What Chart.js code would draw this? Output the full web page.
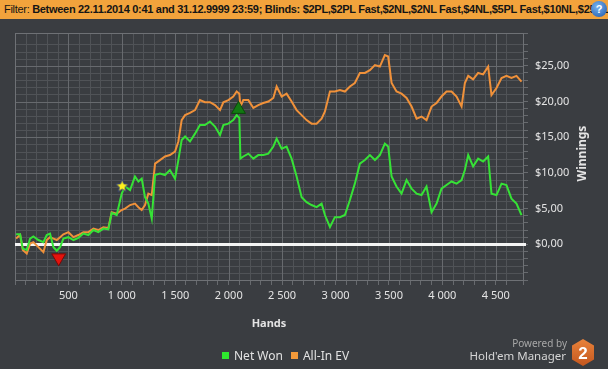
<!DOCTYPE html>
<html>
<head>
<meta charset="utf-8">
<script src="https://cdn.jsdelivr.net/npm/chart.js@4.4.1/dist/chart.umd.min.js"></script>
<style>
  body { margin:0; width:608px; height:369px; background:#3a3d41; overflow:hidden; position:relative; font-family:"Noto Sans", sans-serif; }
  #filterBar { position:absolute; left:0; top:0; width:608px; height:19px; background:#f2a33c; color:#151515; font:bold 11px "Liberation Sans", Arial, sans-serif; letter-spacing:-0.3px; line-height:19px; white-space:nowrap; overflow:hidden; z-index:2; }
  #filterBar .txt { position:absolute; left:4px; top:0; }
  #filterBar .lbl { font-weight:normal; }
  #help { position:absolute; left:591px; top:1px; width:16px; height:16px; border-radius:50%; background:radial-gradient(circle at 40% 35%, #79b3f0, #1c56a8); color:#fff; font:bold 11px "Liberation Sans", Arial, sans-serif; letter-spacing:0; text-align:center; line-height:16px; }
  #wrap { position:absolute; left:0; top:0; width:608px; height:369px; }
  #legend { position:absolute; left:222px; top:348px; font-size:12px; color:#e2e2e2; white-space:nowrap; line-height:16px; }
  #legend .sq { display:inline-block; width:7px; height:7px; margin-right:5px; vertical-align:1px; }
  #legend .item { margin-right:8px; }
  #powered { position:absolute; right:41px; top:336px; font-size:10px; color:#a8a8a8; }
  #hm { position:absolute; right:42px; top:348px; font-size:11.5px; color:#d6d6d6; }
  #logo { position:absolute; left:572px; top:339px; }
</style>
</head>
<body>
<div id="filterBar"><span class="txt"><span class="lbl">Filter:</span> Between 22.11.2014 0:41 and 31.12.9999 23:59; Blinds: $2PL,$2PL Fast,$2NL,$2NL Fast,$4NL,$5PL Fast,$10NL,$25NL,$50NL</span><div id="help">?</div></div>
<div id="wrap"><canvas id="chart" width="608" height="369"></canvas></div>
<div id="legend"><span class="item"><span class="sq" style="background:#2ee82e"></span>Net Won</span><span class="item"><span class="sq" style="background:#f39a3a"></span>All-In EV</span></div>
<div id="powered">Powered by</div>
<div id="hm">Hold'em Manager</div>
<svg id="logo" width="22" height="27" viewBox="0 0 22 27">
  <defs><linearGradient id="hg" x1="0" y1="0" x2="0" y2="1"><stop offset="0" stop-color="#e8823a"/><stop offset="1" stop-color="#c4571f"/></linearGradient></defs>
  <polygon points="11,0 22,6.5 22,20.5 11,27 0,20.5 0,6.5" fill="url(#hg)"/>
  <text x="11" y="20" text-anchor="middle" font-family="Liberation Sans, Arial" font-weight="bold" font-size="17" fill="#fff">2</text>
</svg>
<script>
// hands played (x positions of samples)
const hands = [10,48,73,110,141,172,219,266,297,328,360,391,422,453,500,547,593,640,687,734,780,827,874,905,952,999,1030,1077,1123,1155,1186,1217,1248,1280,1311,1357,1404,1450,1498,1529,1560,1592,1638,1685,1731,1778,1825,1872,1919,1950,1997,2043,2075,2100,2110,2137,2184,2231,2277,2324,2371,2418,2449,2496,2542,2589,2636,2683,2729,2776,2823,2870,2901,2948,2994,3041,3088,3135,3181,3228,3275,3322,3369,3415,3462,3493,3525,3571,3618,3665,3712,3759,3805,3852,3899,3946,3992,4039,4086,4133,4180,4211,4242,4288,4335,4382,4429,4460,4507,4554,4600,4647,4694,4741];

const netWon = [1.4,1.4,-0.6,-0.8,0.8,1.1,0.6,0.3,1.3,1.5,-0.4,-0.9,-0.4,0.8,1.0,0.6,0.9,1.5,1.3,2.0,1.7,2.2,2.1,4.4,4.1,7.1,8.1,7.6,9.5,8.8,9.2,6.6,5.7,3.6,9.7,9.9,9.7,10.4,9.2,11.8,14.6,15.1,14.4,15.5,16.7,16.7,17.2,16.5,15.3,16.7,16.9,17.4,18.1,17.7,12.0,12.3,12.7,12.0,12.5,12.5,12.7,13.7,14.8,13.4,13.7,12.0,9.5,6.6,5.9,5.5,5.2,5.7,4.1,2.4,3.8,3.8,4.1,6.2,8.5,11.3,11.8,12.5,11.8,12.5,14.1,13.7,9.5,8.1,7.1,9.0,7.8,7.1,6.9,8.1,4.5,5.7,7.8,8.3,8.8,8.5,9.0,10.4,12.5,10.9,12.0,11.6,12.3,7.1,6.9,8.5,8.3,6.4,5.7,4.1];

const allInEV = [0.8,1.3,-0.8,-1.3,0.1,0.3,-0.4,-1.1,0.6,1.0,0.8,0.6,1.0,1.4,1.7,1.0,1.3,1.7,1.7,2.2,2.0,2.4,2.3,4.5,4.3,4.8,5.0,5.5,5.7,5.2,4.8,5.5,7.1,6.9,11.3,11.8,12.3,12.5,13.0,14.4,17.4,18.1,18.4,18.8,20.2,19.9,19.9,19.5,18.8,19.9,20.2,20.7,21.4,21.1,19.3,20.2,20.2,19.1,19.5,19.8,20.0,20.5,22.1,20.7,21.1,20.0,18.8,18.1,17.4,16.9,16.9,17.6,18.6,21.4,21.4,21.6,21.4,22.1,22.6,24.0,24.0,24.4,25.1,24.9,26.5,26.3,22.6,21.4,21.1,20.5,19.3,17.6,17.9,17.4,19.3,19.8,20.7,21.4,21.4,20.7,19.3,22.6,23.6,23.1,24.0,23.8,24.9,20.9,21.9,23.3,23.6,23.3,23.6,22.8];

// special hands: biggest loss, star hand, biggest win
const markerHands = [409, 1003, 2092];
const markerValues = [-1.9, 8.2, 18.9];

const xMin = 0, xMax = 4755;
const yMin = -5, yMax = 29.6;

const minorGrid = '#505357';
const majorGrid = '#676a6e';
const frame = '#6e7175';
const textColor = '#e4e4e4';

function makeStar(size) {
  const c = document.createElement('canvas');
  c.width = size; c.height = size;
  const g = c.getContext('2d');
  const cx = size / 2, cy = size / 2 + 0.5, R = size / 2 - 0.8, r = R * 0.45;
  g.beginPath();
  for (let i = 0; i < 10; i++) {
    const a = -Math.PI / 2 + i * Math.PI / 5;
    const rad = i % 2 ? r : R;
    g.lineTo(cx + rad * Math.cos(a), cy + rad * Math.sin(a));
  }
  g.closePath();
  g.fillStyle = '#fff21c';
  g.fill();
  g.strokeStyle = '#2b3a7a';
  g.lineWidth = 1;
  g.stroke();
  return c;
}

function formatHands(v) {
  if (v <= 0 || v % 500 !== 0) return '';
  if (v < 1000) return String(v);
  return Math.floor(v / 1000) + ' ' + String(v % 1000).padStart(3, '0');
}

function formatMoney(v) {
  if (v < 0 || Math.abs(v % 5) > 1e-9) return '';
  return '$' + v.toFixed(2).replace('.', ',');
}

// minor/major grid, frame and zero line as 1px rects, placed from the scales' ticks
const plotGrid = {
  id: 'plotGrid',
  beforeDatasetsDraw(chart) {
    const { ctx, chartArea: a } = chart;
    const xs = chart.scales.x, ys = chart.scales.y;
    const L = Math.round(a.left), R = Math.round(a.right);
    const T = Math.round(a.top), B = Math.round(a.bottom);
    ctx.save();
    const pass = (isMajor) => {
      ctx.fillStyle = isMajor ? majorGrid : minorGrid;
      xs.ticks.forEach(t => {
        if (t.value <= xMin || t.value >= xMax) return;
        if ((t.value % 500 === 0) !== isMajor) return;
        ctx.fillRect(Math.round(xs.getPixelForValue(t.value)), T, 1, B - T);
      });
      ys.ticks.forEach(t => {
        if (t.value <= yMin || t.value >= yMax || t.value === 0) return;
        if ((Math.abs(t.value % 5) < 1e-9) !== isMajor) return;
        ctx.fillRect(L, Math.round(ys.getPixelForValue(t.value)), R - L, 1);
      });
    };
    pass(false);
    pass(true);
    ctx.fillStyle = frame;
    ctx.fillRect(L, T, R - L + 1, 1);
    ctx.fillRect(L, B, R - L + 1, 1);
    ctx.fillRect(L, T, 1, B - T);
    ctx.fillRect(R, T, 1, B - T);
    const z = Math.round(ys.getPixelForValue(0));
    ctx.fillStyle = '#f4f4f4';
    ctx.fillRect(L, z - 1, R - L + 3, 3);
    ctx.restore();
  }
};

// rotated axis title on the right, reading bottom to top
const winningsTitle = {
  id: 'winningsTitle',
  afterDraw(chart) {
    const { ctx, chartArea } = chart;
    const ys = chart.scales.y;
    ctx.save();
    ctx.translate(ys.right - 25, (chartArea.top + chartArea.bottom) / 2 - 3);
    ctx.rotate(-Math.PI / 2);
    ctx.font = 'bold 12px "Noto Sans"';
    ctx.fillStyle = textColor;
    ctx.textAlign = 'center';
    ctx.textBaseline = 'middle';
    ctx.fillText('Winnings', 0, 0);
    ctx.restore();
  }
};

const toPoints = (xs, ys) => xs.map((x, i) => ({ x: x, y: ys[i] }));

new Chart(document.getElementById('chart'), {
  type: 'line',
  data: {
    datasets: [
      {
        label: 'Markers',
        data: toPoints(markerHands, markerValues),
        showLine: false,
        pointStyle: ['triangle', makeStar(15), 'triangle'],
        rotation: [180, 0, 0],
        pointRadius: [8, 7, 8],
        pointBackgroundColor: ['#e4130d', '#fff21c', '#127a12'],
        pointBorderColor: ['#7a0808', '#2b3a7a', '#0a4a0a'],
        pointBorderWidth: 1,
        order: 0
      },
      {
        label: 'Net Won',
        data: toPoints(hands, netWon),
        borderColor: '#36e236',
        borderWidth: 2,
        pointRadius: 0,
        tension: 0,
        order: 1
      },
      {
        label: 'All-In EV',
        data: toPoints(hands, allInEV),
        borderColor: '#f0913a',
        borderWidth: 2,
        pointRadius: 0,
        tension: 0,
        order: 2
      }
    ]
  },
  options: {
    responsive: false,
    animation: false,
    events: [],
    layout: { padding: { left: 15, top: 33, right: 0, bottom: 0 } },
    plugins: {
      legend: { display: false },
      tooltip: { enabled: false }
    },
    scales: {
      x: {
        type: 'linear',
        min: xMin,
        max: xMax,
        afterFit: (scale) => { scale.height = 89; },
        border: { display: false },
        grid: {
          drawOnChartArea: false,
          color: majorGrid,
          tickColor: majorGrid,
          tickLength: 5
        },
        ticks: {
          stepSize: 100,
          autoSkip: false,
          maxRotation: 0,
          padding: 4,
          color: textColor,
          font: { family: '"Noto Sans"', size: 11 },
          callback: formatHands
        },
        title: {
          display: true,
          text: 'Hands',
          color: textColor,
          font: { family: '"Noto Sans"', size: 11, weight: 'bold' },
          padding: { top: 0, bottom: 39 }
        }
      },
      y: {
        type: 'linear',
        position: 'right',
        min: yMin,
        max: yMax,
        afterFit: (scale) => { scale.width = 85; },
        border: { display: false },
        grid: {
          drawOnChartArea: false,
          color: majorGrid,
          tickColor: majorGrid,
          tickLength: 5
        },
        ticks: {
          stepSize: 1,
          autoSkip: false,
          padding: 7,
          color: textColor,
          font: { family: '"Noto Sans"', size: 11 },
          callback: formatMoney
        }
      }
    }
  },
  plugins: [plotGrid, winningsTitle]
});
</script>
</body>
</html>
